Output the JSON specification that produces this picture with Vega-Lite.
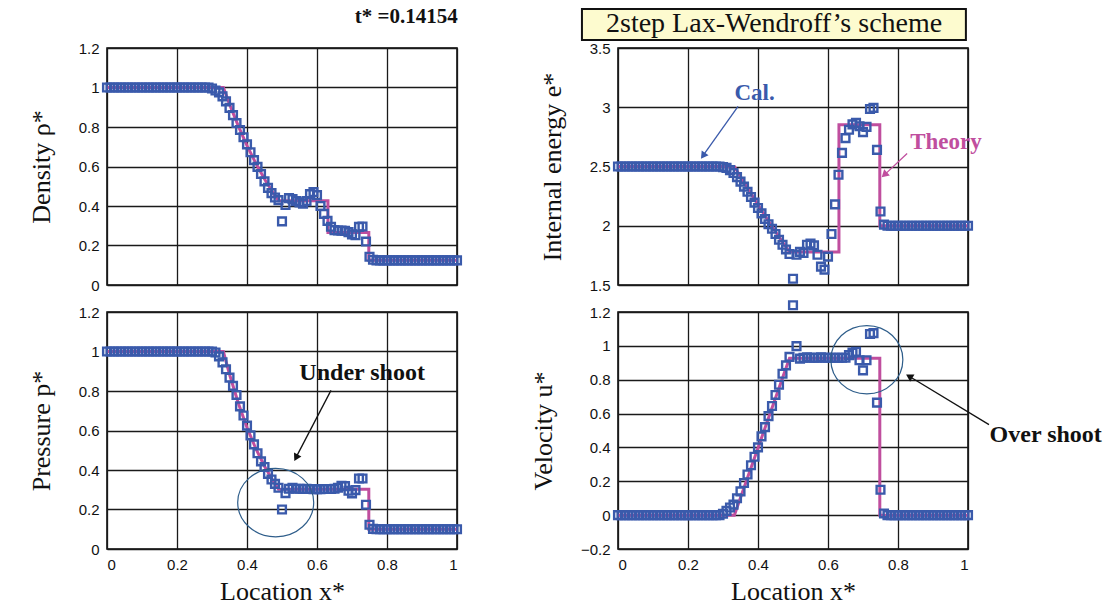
{
  "$schema": "https://vega.github.io/schema/vega-lite/v6.json",
  "background": "white",
  "padding": {"left": 27, "top": 5, "right": 5, "bottom": 5},
  "config": {
    "view": {"stroke": "#000", "strokeWidth": 1.5},
    "axis": {"grid": true, "gridColor": "#1a1a1a", "gridWidth": 1.3, "gridOpacity": 1, "domain": false, "ticks": false, "labelOverlap": false,
      "labelFont": "Liberation Sans", "labelFontSize": 15, "labelColor": "#111", "labelPadding": 8,
      "titleFont": "Liberation Serif", "titleFontSize": 26, "titleFontWeight": "normal", "titleColor": "#111"},
    "axisY": {"titlePadding": 24},
    "axisX": {"titlePadding": 6},
    "font": "Liberation Serif"
  },
  "datasets": {
    "calc": [
      {"x":0.00,"rho":1,"p":1,"e":2.5,"u":0},{"x":0.01,"rho":1,"p":1,"e":2.5,"u":0},{"x":0.02,"rho":1,"p":1,"e":2.5,"u":0},{"x":0.03,"rho":1,"p":1,"e":2.5,"u":0},{"x":0.04,"rho":1,"p":1,"e":2.5,"u":0},
      {"x":0.05,"rho":1,"p":1,"e":2.5,"u":0},{"x":0.06,"rho":1,"p":1,"e":2.5,"u":0},{"x":0.07,"rho":1,"p":1,"e":2.5,"u":0},{"x":0.08,"rho":1,"p":1,"e":2.5,"u":0},{"x":0.09,"rho":1,"p":1,"e":2.5,"u":0},
      {"x":0.10,"rho":1,"p":1,"e":2.5,"u":0},{"x":0.11,"rho":1,"p":1,"e":2.5,"u":0},{"x":0.12,"rho":1,"p":1,"e":2.5,"u":0},{"x":0.13,"rho":1,"p":1,"e":2.5,"u":0},{"x":0.14,"rho":1,"p":1,"e":2.5,"u":0},
      {"x":0.15,"rho":1,"p":1,"e":2.5,"u":0},{"x":0.16,"rho":1,"p":1,"e":2.5,"u":0},{"x":0.17,"rho":1,"p":1,"e":2.5,"u":0},{"x":0.18,"rho":1,"p":1,"e":2.5,"u":0},{"x":0.19,"rho":1,"p":1,"e":2.5,"u":0},
      {"x":0.20,"rho":1,"p":1,"e":2.5,"u":0},{"x":0.21,"rho":1,"p":1,"e":2.5,"u":0},{"x":0.22,"rho":1,"p":1,"e":2.5,"u":0},{"x":0.23,"rho":1,"p":1,"e":2.5,"u":0},{"x":0.24,"rho":1,"p":1,"e":2.5,"u":0},
      {"x":0.25,"rho":1,"p":1,"e":2.5,"u":0},{"x":0.26,"rho":1,"p":1,"e":2.5,"u":0},{"x":0.27,"rho":1,"p":1,"e":2.5,"u":0},{"x":0.28,"rho":1,"p":1,"e":2.5,"u":0},{"x":0.29,"rho":1,"p":1,"e":2.5,"u":0},
      {"x":0.30,"rho":0.995,"p":1.0,"e":2.495,"u":0.008},
      {"x":0.31,"rho":0.985,"p":0.995,"e":2.488,"u":0.025},
      {"x":0.32,"rho":0.975,"p":0.975,"e":2.47,"u":0.045},
      {"x":0.33,"rho":0.955,"p":0.945,"e":2.445,"u":0.062},
      {"x":0.34,"rho":0.93,"p":0.91,"e":2.41,"u":0.1},
      {"x":0.35,"rho":0.897,"p":0.868,"e":2.372,"u":0.14},
      {"x":0.36,"rho":0.86,"p":0.826,"e":2.33,"u":0.19},
      {"x":0.37,"rho":0.82,"p":0.78,"e":2.287,"u":0.24},
      {"x":0.38,"rho":0.785,"p":0.722,"e":2.243,"u":0.295},
      {"x":0.39,"rho":0.748,"p":0.676,"e":2.195,"u":0.345},
      {"x":0.40,"rho":0.712,"p":0.625,"e":2.15,"u":0.4},
      {"x":0.41,"rho":0.672,"p":0.575,"e":2.105,"u":0.465},
      {"x":0.42,"rho":0.632,"p":0.53,"e":2.057,"u":0.52},
      {"x":0.43,"rho":0.598,"p":0.485,"e":2.013,"u":0.585},
      {"x":0.44,"rho":0.562,"p":0.444,"e":1.975,"u":0.645},
      {"x":0.45,"rho":0.525,"p":0.415,"e":1.93,"u":0.71},
      {"x":0.46,"rho":0.492,"p":0.38,"e":1.882,"u":0.77},
      {"x":0.47,"rho":0.465,"p":0.352,"e":1.84,"u":0.835},
      {"x":0.48,"rho":0.443,"p":0.33,"e":1.8,"u":0.885},
      {"x":0.49,"rho":0.43,"p":0.31,"e":1.762,"u":0.935},
      {"x":0.50,"rho":0.322,"p":0.2,"e":1.553,"u":1.24},
      {"x":0.51,"rho":0.405,"p":0.283,"e":1.755,"u":0.998},
      {"x":0.52,"rho":0.44,"p":0.305,"e":1.78,"u":0.925},
      {"x":0.53,"rho":0.435,"p":0.31,"e":1.77,"u":0.93},
      {"x":0.54,"rho":0.425,"p":0.305,"e":1.84,"u":0.932},
      {"x":0.55,"rho":0.418,"p":0.305,"e":1.85,"u":0.93},
      {"x":0.56,"rho":0.412,"p":0.304,"e":1.835,"u":0.93},
      {"x":0.57,"rho":0.425,"p":0.305,"e":1.755,"u":0.93},
      {"x":0.58,"rho":0.46,"p":0.304,"e":1.655,"u":0.932},
      {"x":0.59,"rho":0.47,"p":0.303,"e":1.63,"u":0.93},
      {"x":0.60,"rho":0.455,"p":0.303,"e":1.74,"u":0.93},
      {"x":0.61,"rho":0.4,"p":0.303,"e":1.93,"u":0.93},
      {"x":0.62,"rho":0.36,"p":0.304,"e":2.18,"u":0.93},
      {"x":0.63,"rho":0.325,"p":0.304,"e":2.43,"u":0.93},
      {"x":0.64,"rho":0.295,"p":0.304,"e":2.615,"u":0.93},
      {"x":0.65,"rho":0.278,"p":0.305,"e":2.74,"u":0.93},
      {"x":0.66,"rho":0.276,"p":0.31,"e":2.81,"u":0.945},
      {"x":0.67,"rho":0.275,"p":0.32,"e":2.855,"u":0.96},
      {"x":0.68,"rho":0.274,"p":0.318,"e":2.868,"u":0.965},
      {"x":0.69,"rho":0.268,"p":0.295,"e":2.84,"u":0.915},
      {"x":0.70,"rho":0.256,"p":0.282,"e":2.79,"u":0.855},
      {"x":0.71,"rho":0.252,"p":0.298,"e":2.835,"u":0.915},
      {"x":0.72,"rho":0.294,"p":0.357,"e":2.985,"u":1.07},
      {"x":0.73,"rho":0.296,"p":0.357,"e":2.995,"u":1.075},
      {"x":0.74,"rho":0.22,"p":0.224,"e":2.64,"u":0.665},
      {"x":0.75,"rho":0.143,"p":0.123,"e":2.12,"u":0.15},
      {"x":0.76,"rho":0.128,"p":0.102,"e":2.01,"u":0.01},
      {"x":0.77,"rho":0.125,"p":0.1,"e":2,"u":0},{"x":0.78,"rho":0.125,"p":0.1,"e":2,"u":0},{"x":0.79,"rho":0.125,"p":0.1,"e":2,"u":0},
      {"x":0.80,"rho":0.125,"p":0.1,"e":2,"u":0},{"x":0.81,"rho":0.125,"p":0.1,"e":2,"u":0},{"x":0.82,"rho":0.125,"p":0.1,"e":2,"u":0},{"x":0.83,"rho":0.125,"p":0.1,"e":2,"u":0},{"x":0.84,"rho":0.125,"p":0.1,"e":2,"u":0},
      {"x":0.85,"rho":0.125,"p":0.1,"e":2,"u":0},{"x":0.86,"rho":0.125,"p":0.1,"e":2,"u":0},{"x":0.87,"rho":0.125,"p":0.1,"e":2,"u":0},{"x":0.88,"rho":0.125,"p":0.1,"e":2,"u":0},{"x":0.89,"rho":0.125,"p":0.1,"e":2,"u":0},
      {"x":0.90,"rho":0.125,"p":0.1,"e":2,"u":0},{"x":0.91,"rho":0.125,"p":0.1,"e":2,"u":0},{"x":0.92,"rho":0.125,"p":0.1,"e":2,"u":0},{"x":0.93,"rho":0.125,"p":0.1,"e":2,"u":0},{"x":0.94,"rho":0.125,"p":0.1,"e":2,"u":0},
      {"x":0.95,"rho":0.125,"p":0.1,"e":2,"u":0},{"x":0.96,"rho":0.125,"p":0.1,"e":2,"u":0},{"x":0.97,"rho":0.125,"p":0.1,"e":2,"u":0},{"x":0.98,"rho":0.125,"p":0.1,"e":2,"u":0},{"x":0.99,"rho":0.125,"p":0.1,"e":2,"u":0},
      {"x":1.00,"rho":0.125,"p":0.1,"e":2,"u":0}
    ],
    "theory": [
      {"i":0,"x":0,"rho":1,"p":1,"e":2.5,"u":0},
      {"i":1,"x":0.3325,"rho":1,"p":1,"e":2.5,"u":0},
      {"i":2,"x":0.35,"rho":0.916,"p":0.8845,"e":2.414,"u":0.103},
      {"i":3,"x":0.375,"rho":0.806,"p":0.739,"e":2.293,"u":0.25},
      {"i":4,"x":0.4,"rho":0.706,"p":0.615,"e":2.176,"u":0.397},
      {"i":5,"x":0.425,"rho":0.617,"p":0.509,"e":2.061,"u":0.544},
      {"i":6,"x":0.45,"rho":0.537,"p":0.419,"e":1.95,"u":0.692},
      {"i":7,"x":0.475,"rho":0.466,"p":0.343,"e":1.841,"u":0.839},
      {"i":8,"x":0.49,"rho":0.4265,"p":0.3031,"e":1.778,"u":0.927},
      {"i":9,"x":0.6313,"rho":0.4265,"p":0.3031,"e":1.778,"u":0.927},
      {"i":10,"x":0.6313,"rho":0.2656,"p":0.3031,"e":2.853,"u":0.927},
      {"i":11,"x":0.748,"rho":0.2656,"p":0.3031,"e":2.853,"u":0.927},
      {"i":12,"x":0.748,"rho":0.125,"p":0.1,"e":2.0,"u":0},
      {"i":13,"x":1.0,"rho":0.125,"p":0.1,"e":2.0,"u":0}
    ]
  },
  "columns": 2,
  "spacing": {"row": 27, "column": 161},
  "bounds": "flush",
  "concat": [
    {
      "width": 350, "height": 237,
      "title": {"text": "t* =0.14154", "anchor": "end", "font": "Liberation Serif", "fontSize": 21, "fontWeight": "bold", "color": "#111", "offset": 14, "dx": -8},
      "layer": [
        {"data": {"name": "theory"}, "mark": {"type": "line", "color": "#c04e9e", "strokeWidth": 3},
         "encoding": {
           "x": {"field": "x", "type": "quantitative", "scale": {"domain": [0, 1], "nice": false}, "axis": {"values": [0, 0.2, 0.4, 0.6, 0.8, 1], "labels": false, "title": null}},
           "y": {"field": "rho", "type": "quantitative", "scale": {"domain": [0, 1.2], "nice": false}, "axis": {"values": [0, 0.2, 0.4, 0.6, 0.8, 1, 1.2], "format": "~g", "title": "Density ρ*"}},
           "order": {"field": "i"}}},
        {"data": {"name": "calc"}, "mark": {"type": "point", "shape": "square", "filled": false, "color": "#3a5aab", "strokeWidth": 2.4, "size": 60, "opacity": 1},
         "encoding": {
           "x": {"field": "x", "type": "quantitative", "axis": {"values": [0, 0.2, 0.4, 0.6, 0.8, 1], "labels": false, "title": null}},
           "y": {"field": "rho", "type": "quantitative", "axis": {"values": [0, 0.2, 0.4, 0.6, 0.8, 1, 1.2], "format": "~g", "title": "Density ρ*"}}}}
      ]
    },
    {
      "width": 350, "height": 237,
      "layer": [
        {"data": {"name": "theory"}, "mark": {"type": "line", "color": "#c04e9e", "strokeWidth": 3},
         "encoding": {
           "x": {"field": "x", "type": "quantitative", "scale": {"domain": [0, 1], "nice": false}, "axis": {"values": [0, 0.2, 0.4, 0.6, 0.8, 1], "labels": false, "title": null}},
           "y": {"field": "e", "type": "quantitative", "scale": {"domain": [1.5, 3.5], "nice": false}, "axis": {"values": [1.5, 2, 2.5, 3, 3.5], "format": "~g", "title": "Internal energy e*"}},
           "order": {"field": "i"}}},
        {"data": {"name": "calc"}, "mark": {"type": "point", "shape": "square", "filled": false, "color": "#3a5aab", "strokeWidth": 2.4, "size": 60, "opacity": 1},
         "encoding": {
           "x": {"field": "x", "type": "quantitative", "axis": {"values": [0, 0.2, 0.4, 0.6, 0.8, 1], "labels": false, "title": null}},
           "y": {"field": "e", "type": "quantitative", "axis": {"values": [1.5, 2, 2.5, 3, 3.5], "format": "~g", "title": "Internal energy e*"}}}},
        {"data": {"values": [{}]}, "mark": {"type": "rect", "fill": "#fdfbcf", "stroke": "#111", "strokeWidth": 2},
         "encoding": {
           "x": {"datum": -0.103, "axis": {"values": [0, 0.2, 0.4, 0.6, 0.8, 1], "labels": false, "title": null}}, "x2": {"datum": 0.994},
           "y": {"datum": 3.83, "axis": {"values": [1.5, 2, 2.5, 3, 3.5], "format": "~g", "title": "Internal energy e*"}}, "y2": {"datum": 3.568}}},
        {"data": {"values": [{}]}, "mark": {"type": "text", "text": "2step Lax-Wendroff’s scheme", "font": "Liberation Serif", "fontSize": 28, "color": "#111", "align": "center", "baseline": "middle"},
         "encoding": {
           "x": {"datum": 0.446, "axis": {"values": [0, 0.2, 0.4, 0.6, 0.8, 1], "labels": false, "title": null}},
           "y": {"datum": 3.7, "axis": {"values": [1.5, 2, 2.5, 3, 3.5], "format": "~g", "title": "Internal energy e*"}}}},
        {"data": {"values": [{}]}, "mark": {"type": "text", "text": "Cal.", "font": "Liberation Serif", "fontSize": 23, "fontWeight": "bold", "color": "#3a5aab", "align": "center", "baseline": "middle"},
         "encoding": {
           "x": {"datum": 0.39, "axis": {"values": [0, 0.2, 0.4, 0.6, 0.8, 1], "labels": false, "title": null}},
           "y": {"datum": 3.12, "axis": {"values": [1.5, 2, 2.5, 3, 3.5], "format": "~g", "title": "Internal energy e*"}}}},
        {"data": {"values": [{}]}, "mark": {"type": "rule", "color": "#3a5aab", "strokeWidth": 1.3},
         "encoding": {
           "x": {"datum": 0.343, "axis": {"values": [0, 0.2, 0.4, 0.6, 0.8, 1], "labels": false, "title": null}}, "x2": {"datum": 0.245},
           "y": {"datum": 3.008, "axis": {"values": [1.5, 2, 2.5, 3, 3.5], "format": "~g", "title": "Internal energy e*"}}, "y2": {"datum": 2.6}}},
        {"data": {"values": [{}]}, "mark": {"type": "point", "shape": "triangle-up", "filled": true, "color": "#3a5aab", "size": 70, "angle": 215, "opacity": 1},
         "encoding": {
           "x": {"datum": 0.243, "axis": {"values": [0, 0.2, 0.4, 0.6, 0.8, 1], "labels": false, "title": null}},
           "y": {"datum": 2.59, "axis": {"values": [1.5, 2, 2.5, 3, 3.5], "format": "~g", "title": "Internal energy e*"}}}},
        {"data": {"values": [{}]}, "mark": {"type": "text", "text": "Theory", "font": "Liberation Serif", "fontSize": 23, "fontWeight": "bold", "color": "#c04e9e", "align": "center", "baseline": "middle"},
         "encoding": {
           "x": {"datum": 0.937, "axis": {"values": [0, 0.2, 0.4, 0.6, 0.8, 1], "labels": false, "title": null}},
           "y": {"datum": 2.703, "axis": {"values": [1.5, 2, 2.5, 3, 3.5], "format": "~g", "title": "Internal energy e*"}}}},
        {"data": {"values": [{}]}, "mark": {"type": "rule", "color": "#c04e9e", "strokeWidth": 1.3},
         "encoding": {
           "x": {"datum": 0.826, "axis": {"values": [0, 0.2, 0.4, 0.6, 0.8, 1], "labels": false, "title": null}}, "x2": {"datum": 0.765},
           "y": {"datum": 2.61, "axis": {"values": [1.5, 2, 2.5, 3, 3.5], "format": "~g", "title": "Internal energy e*"}}, "y2": {"datum": 2.44}}},
        {"data": {"values": [{}]}, "mark": {"type": "point", "shape": "triangle-up", "filled": true, "color": "#c04e9e", "size": 70, "angle": 227, "opacity": 1},
         "encoding": {
           "x": {"datum": 0.761, "axis": {"values": [0, 0.2, 0.4, 0.6, 0.8, 1], "labels": false, "title": null}},
           "y": {"datum": 2.43, "axis": {"values": [1.5, 2, 2.5, 3, 3.5], "format": "~g", "title": "Internal energy e*"}}}}
      ]
    },
    {
      "width": 350, "height": 237,
      "layer": [
        {"data": {"name": "theory"}, "mark": {"type": "line", "color": "#c04e9e", "strokeWidth": 3},
         "encoding": {
           "x": {"field": "x", "type": "quantitative", "scale": {"domain": [0, 1], "nice": false}, "axis": {"values": [0, 0.2, 0.4, 0.6, 0.8, 1], "format": "~g", "title": "Location x*"}},
           "y": {"field": "p", "type": "quantitative", "scale": {"domain": [0, 1.2], "nice": false}, "axis": {"values": [0, 0.2, 0.4, 0.6, 0.8, 1, 1.2], "format": "~g", "title": "Pressure p*"}},
           "order": {"field": "i"}}},
        {"data": {"name": "calc"}, "mark": {"type": "point", "shape": "square", "filled": false, "color": "#3a5aab", "strokeWidth": 2.4, "size": 60, "opacity": 1},
         "encoding": {
           "x": {"field": "x", "type": "quantitative", "axis": {"values": [0, 0.2, 0.4, 0.6, 0.8, 1], "format": "~g", "title": "Location x*"}},
           "y": {"field": "p", "type": "quantitative", "axis": {"values": [0, 0.2, 0.4, 0.6, 0.8, 1, 1.2], "format": "~g", "title": "Pressure p*"}}}},
        {"data": {"values": [{}]}, "mark": {"type": "point", "shape": "M -1 0 A 1 0.9 0 1 1 1 0 A 1 0.9 0 1 1 -1 0 Z", "filled": false, "color": "#2e5d8a", "strokeWidth": 1.2, "size": 5776, "opacity": 1},
         "encoding": {
           "x": {"datum": 0.482, "axis": {"values": [0, 0.2, 0.4, 0.6, 0.8, 1], "format": "~g", "title": "Location x*"}},
           "y": {"datum": 0.235, "axis": {"values": [0, 0.2, 0.4, 0.6, 0.8, 1, 1.2], "format": "~g", "title": "Pressure p*"}}}},
        {"data": {"values": [{}]}, "mark": {"type": "rule", "color": "#111", "strokeWidth": 1.3},
         "encoding": {
           "x": {"datum": 0.64, "axis": {"values": [0, 0.2, 0.4, 0.6, 0.8, 1], "format": "~g", "title": "Location x*"}}, "x2": {"datum": 0.542},
           "y": {"datum": 0.803, "axis": {"values": [0, 0.2, 0.4, 0.6, 0.8, 1, 1.2], "format": "~g", "title": "Pressure p*"}}, "y2": {"datum": 0.47}}},
        {"data": {"values": [{}]}, "mark": {"type": "point", "shape": "triangle-up", "filled": true, "color": "#111", "size": 70, "angle": 208, "opacity": 1},
         "encoding": {
           "x": {"datum": 0.54, "axis": {"values": [0, 0.2, 0.4, 0.6, 0.8, 1], "format": "~g", "title": "Location x*"}},
           "y": {"datum": 0.462, "axis": {"values": [0, 0.2, 0.4, 0.6, 0.8, 1, 1.2], "format": "~g", "title": "Pressure p*"}}}},
        {"data": {"values": [{}]}, "mark": {"type": "text", "text": "Under shoot", "font": "Liberation Serif", "fontSize": 24, "fontWeight": "bold", "color": "#111", "align": "center", "baseline": "middle"},
         "encoding": {
           "x": {"datum": 0.729, "axis": {"values": [0, 0.2, 0.4, 0.6, 0.8, 1], "format": "~g", "title": "Location x*"}},
           "y": {"datum": 0.89, "axis": {"values": [0, 0.2, 0.4, 0.6, 0.8, 1, 1.2], "format": "~g", "title": "Pressure p*"}}}}
      ]
    },
    {
      "width": 350, "height": 237,
      "layer": [
        {"data": {"name": "theory"}, "mark": {"type": "line", "color": "#c04e9e", "strokeWidth": 3},
         "encoding": {
           "x": {"field": "x", "type": "quantitative", "scale": {"domain": [0, 1], "nice": false}, "axis": {"values": [0, 0.2, 0.4, 0.6, 0.8, 1], "format": "~g", "title": "Location x*"}},
           "y": {"field": "u", "type": "quantitative", "scale": {"domain": [-0.2, 1.2], "nice": false}, "axis": {"values": [-0.2, 0, 0.2, 0.4, 0.6, 0.8, 1, 1.2], "format": "~g", "title": "Velocity u*"}},
           "order": {"field": "i"}}},
        {"data": {"name": "calc"}, "mark": {"type": "point", "shape": "square", "filled": false, "color": "#3a5aab", "strokeWidth": 2.4, "size": 60, "opacity": 1},
         "encoding": {
           "x": {"field": "x", "type": "quantitative", "axis": {"values": [0, 0.2, 0.4, 0.6, 0.8, 1], "format": "~g", "title": "Location x*"}},
           "y": {"field": "u", "type": "quantitative", "axis": {"values": [-0.2, 0, 0.2, 0.4, 0.6, 0.8, 1, 1.2], "format": "~g", "title": "Velocity u*"}}}},
        {"data": {"values": [{}]}, "mark": {"type": "point", "shape": "M -1 0 A 1 0.95 0 1 1 1 0 A 1 0.95 0 1 1 -1 0 Z", "filled": false, "color": "#2e5d8a", "strokeWidth": 1.2, "size": 5184, "opacity": 1},
         "encoding": {
           "x": {"datum": 0.711, "axis": {"values": [0, 0.2, 0.4, 0.6, 0.8, 1], "format": "~g", "title": "Location x*"}},
           "y": {"datum": 0.918, "axis": {"values": [-0.2, 0, 0.2, 0.4, 0.6, 0.8, 1, 1.2], "format": "~g", "title": "Velocity u*"}}}},
        {"data": {"values": [{}]}, "mark": {"type": "rule", "color": "#111", "strokeWidth": 1.3},
         "encoding": {
           "x": {"datum": 1.06, "axis": {"values": [0, 0.2, 0.4, 0.6, 0.8, 1], "format": "~g", "title": "Location x*"}}, "x2": {"datum": 0.84},
           "y": {"datum": 0.535, "axis": {"values": [-0.2, 0, 0.2, 0.4, 0.6, 0.8, 1, 1.2], "format": "~g", "title": "Velocity u*"}}, "y2": {"datum": 0.81}}},
        {"data": {"values": [{}]}, "mark": {"type": "point", "shape": "triangle-up", "filled": true, "color": "#111", "size": 70, "angle": 301, "opacity": 1},
         "encoding": {
           "x": {"datum": 0.832, "axis": {"values": [0, 0.2, 0.4, 0.6, 0.8, 1], "format": "~g", "title": "Location x*"}},
           "y": {"datum": 0.82, "axis": {"values": [-0.2, 0, 0.2, 0.4, 0.6, 0.8, 1, 1.2], "format": "~g", "title": "Velocity u*"}}}},
        {"data": {"values": [{}]}, "mark": {"type": "text", "text": "Over shoot", "font": "Liberation Serif", "fontSize": 24, "fontWeight": "bold", "color": "#111", "align": "center", "baseline": "middle"},
         "encoding": {
           "x": {"datum": 1.222, "axis": {"values": [0, 0.2, 0.4, 0.6, 0.8, 1], "format": "~g", "title": "Location x*"}},
           "y": {"datum": 0.476, "axis": {"values": [-0.2, 0, 0.2, 0.4, 0.6, 0.8, 1, 1.2], "format": "~g", "title": "Velocity u*"}}}}
      ]
    }
  ]
}
